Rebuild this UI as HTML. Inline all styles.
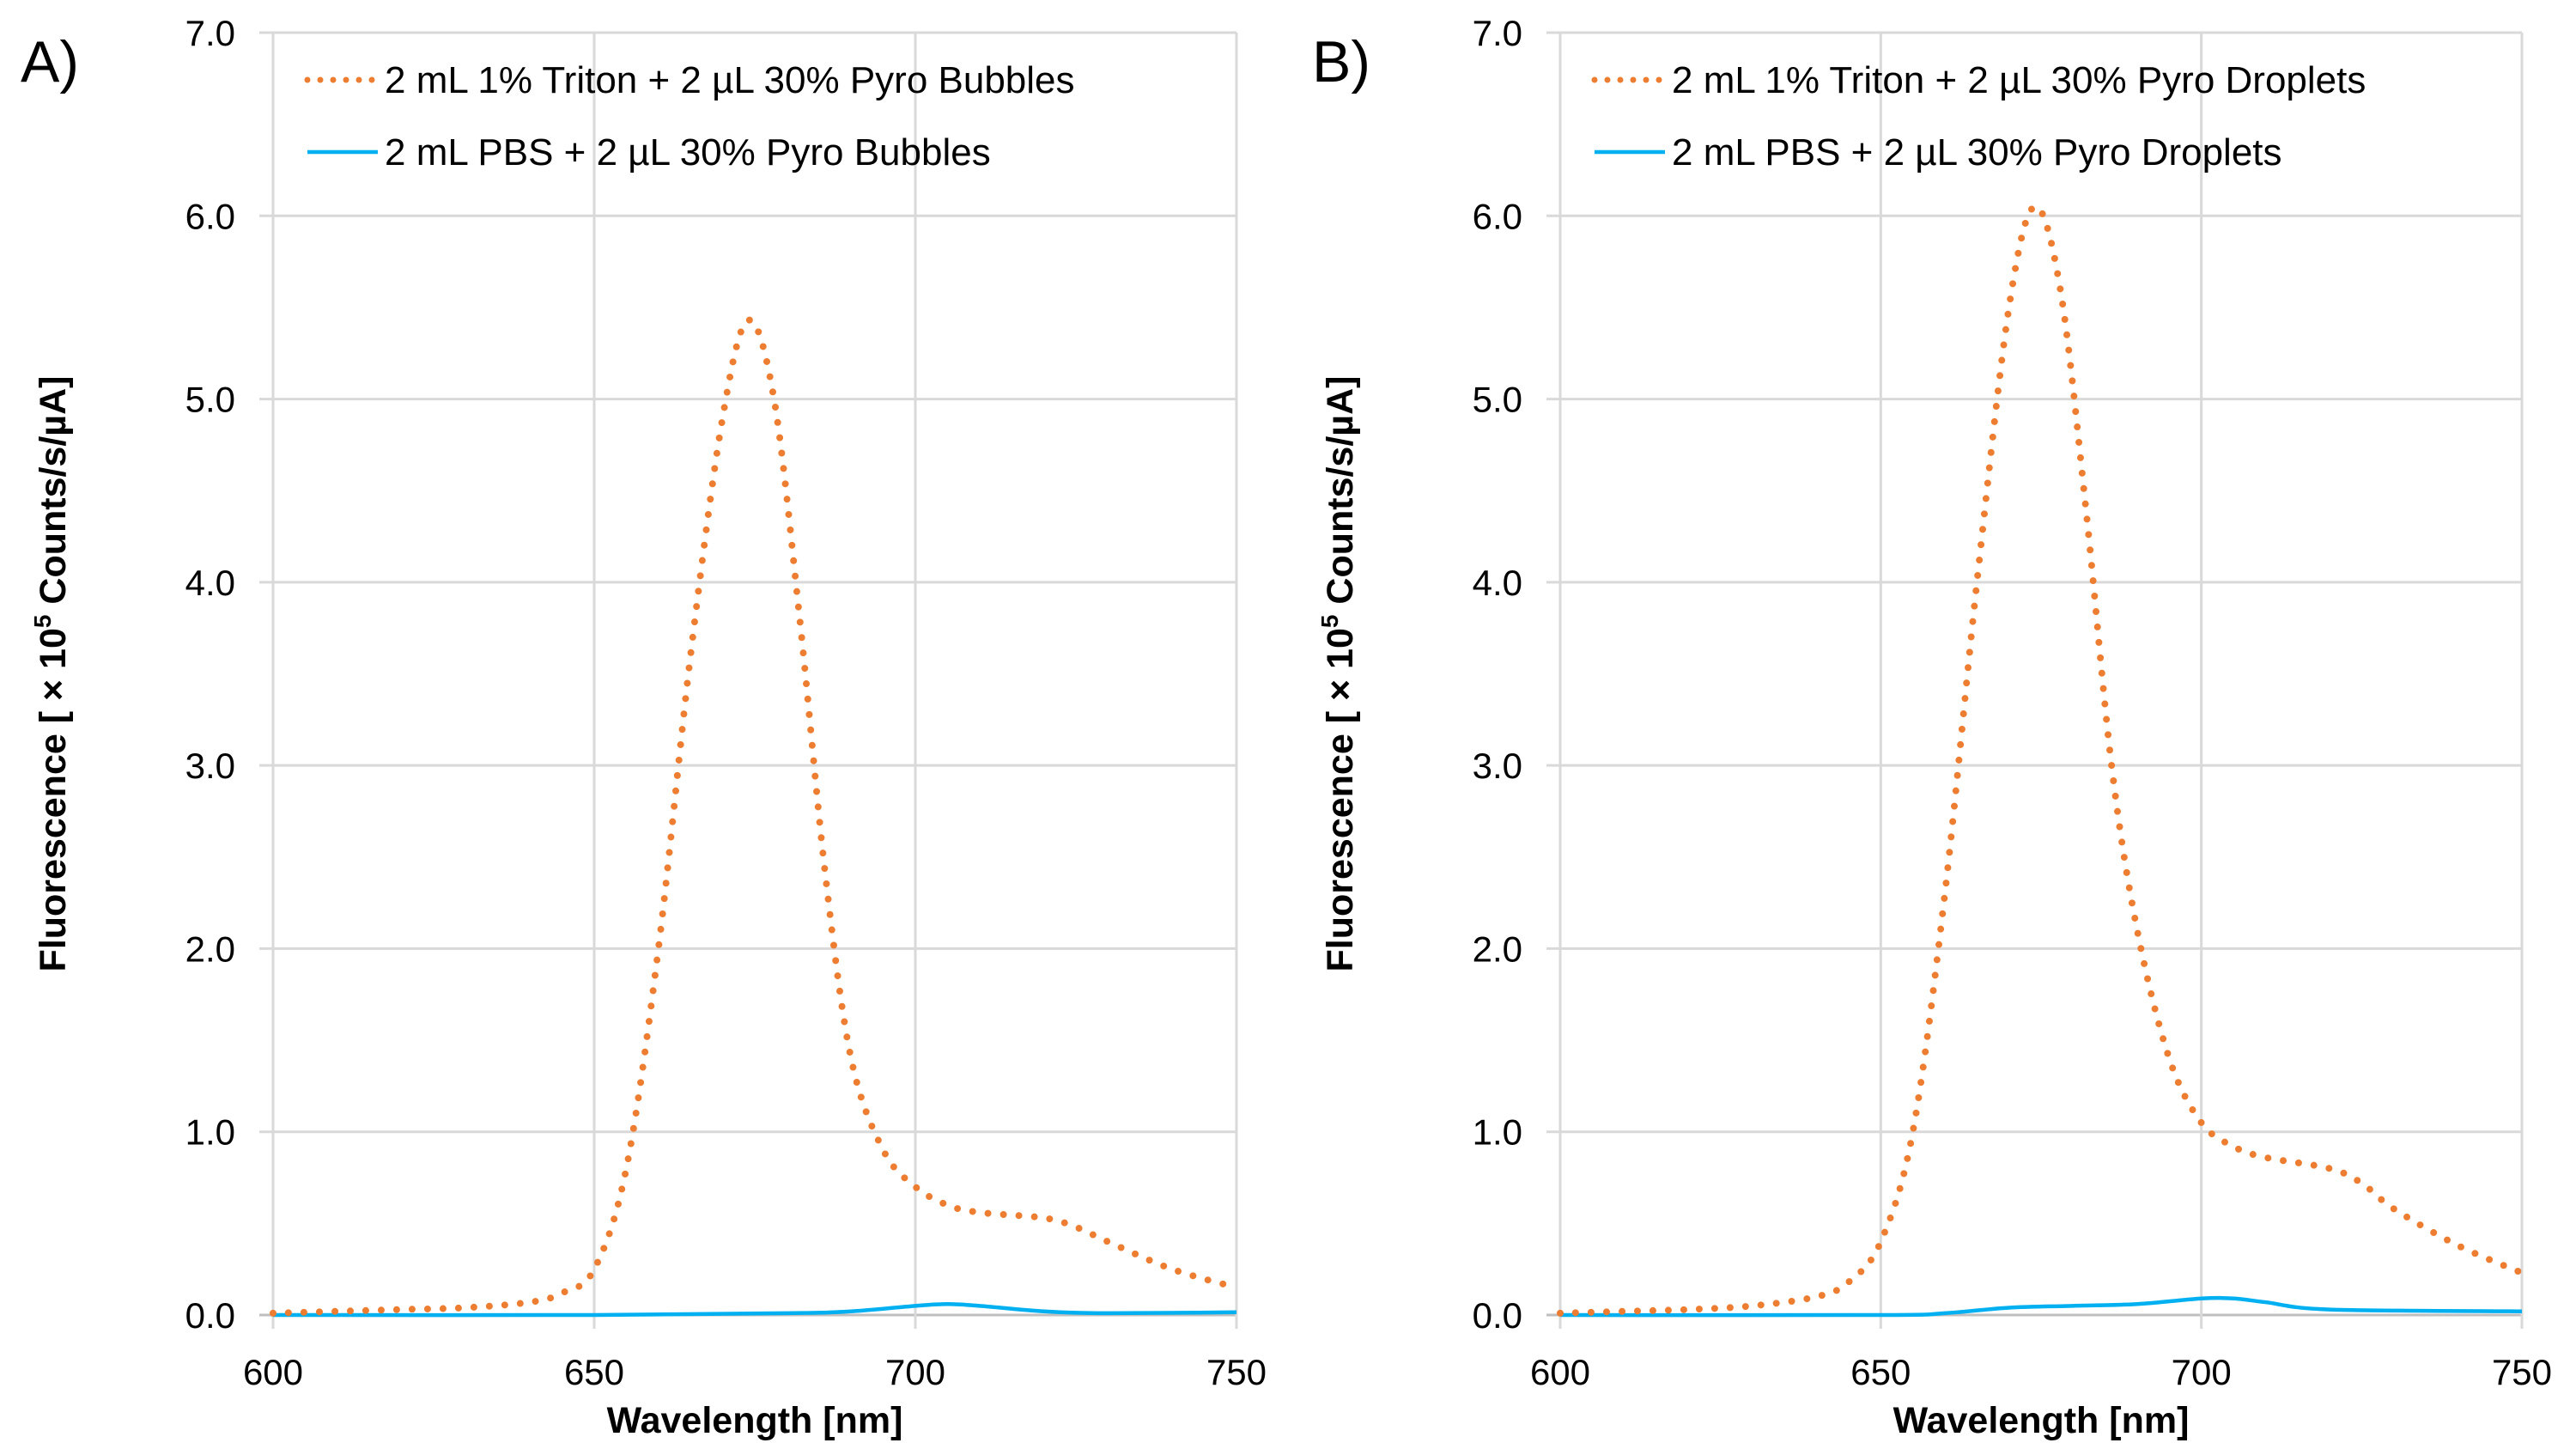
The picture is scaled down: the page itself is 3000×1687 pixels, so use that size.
<!DOCTYPE html>
<html><head><meta charset="utf-8"><style>
html,body{margin:0;padding:0;background:#fff;}
svg{display:block;font-family:"Liberation Sans",sans-serif;}
</style></head><body>
<svg id="chart" width="3000" height="1687" viewBox="0 0 3000 1687"></svg>
<script>
const xTicks = [600, 650, 700, 750];
const yTicks = [0, 1, 2, 3, 4, 5, 6, 7];
const yTickLabels = ["0.0","1.0","2.0","3.0","4.0","5.0","6.0","7.0"];
const wlA_orange = [600,610,620,630,640,645,650,655,660,665,670,674,678,682,686,690,695,700,705,710,720,725,730,740,750];
const valA_orange = [0.01,0.02,0.03,0.04,0.07,0.12,0.25,0.8,2.0,3.6,4.9,5.43,5.0,3.8,2.4,1.4,0.9,0.7,0.6,0.56,0.53,0.48,0.4,0.25,0.15];
const wlA_blue = [600,650,680,690,700,705,710,720,730,750];
const valA_blue = [0.0,0.0,0.01,0.02,0.05,0.06,0.05,0.02,0.01,0.015];
const wlB_orange = [600,610,620,630,640,645,650,655,660,665,670,674,678,682,686,690,695,700,705,710,720,725,730,740,750];
const valB_orange = [0.01,0.02,0.03,0.05,0.1,0.18,0.4,1.0,2.3,4.0,5.5,6.05,5.6,4.4,3.0,2.1,1.4,1.05,0.92,0.86,0.8,0.72,0.58,0.38,0.23];
const wlB_blue = [600,650,660,670,680,690,700,705,710,720,750];
const valB_blue = [0.0,0.0,0.01,0.04,0.05,0.06,0.09,0.09,0.07,0.03,0.02];
const legA = ["2 mL 1% Triton + 2 µL 30% Pyro Bubbles","2 mL PBS + 2 µL 30% Pyro Bubbles"];
const legB = ["2 mL 1% Triton + 2 µL 30% Pyro Droplets","2 mL PBS + 2 µL 30% Pyro Droplets"];

const svg = document.getElementById('chart');
const NS = 'http://www.w3.org/2000/svg';
function mk(tag, attrs, parent){const e=document.createElementNS(NS,tag);for(const k in attrs)e.setAttribute(k,attrs[k]);(parent||svg).appendChild(e);return e;}
function pathFrom(pts){
  let d='M'+pts[0][0]+','+pts[0][1];
  for(let i=0;i<pts.length-1;i++){
    const p0=pts[Math.max(0,i-1)],p1=pts[i],p2=pts[i+1],p3=pts[Math.min(pts.length-1,i+2)];
    const c1x=p1[0]+(p2[0]-p0[0])/6,c1y=p1[1]+(p2[1]-p0[1])/6;
    const c2x=p2[0]-(p3[0]-p1[0])/6,c2y=p2[1]-(p3[1]-p1[1])/6;
    d+=' C'+c1x+','+c1y+' '+c2x+','+c2y+' '+p2[0]+','+p2[1];
  }
  return d;
}
function panel(id, left, right, letter, letterX, wlO, vO, wlB, vB, leg){
  const top=38, bottom=1531;
  const g=mk('g',{});
  
  
  const xs=v=>left+(v-600)/150*(right-left);
  const ys=v=>bottom-v/7*(bottom-top);
  yTicks.forEach((t,i)=>{
    const l=mk('line',{x1:left-16,x2:right,y1:ys(t),y2:ys(t),stroke:t===0?'#bfbfbf':'#d9d9d9','stroke-width':3},g);
    
    
    const tx=mk('text',{x:left-44,y:ys(t)+15,'text-anchor':'end','font-size':42,fill:'#000'},g);
    tx.textContent=yTickLabels[i];
    
    
  });
  xTicks.forEach(t=>{
    const l=mk('line',{x1:xs(t),x2:xs(t),y1:top,y2:bottom+16,stroke:'#d9d9d9','stroke-width':3},g);
    
    
    const tx=mk('text',{x:xs(t),y:1612,'text-anchor':'middle','font-size':42,fill:'#000'},g);
    tx.textContent=t;
    
    
  });
  const bl=mk('path',{d:pathFrom(wlB.map((w,i)=>[xs(w),ys(vB[i])])),fill:'none',stroke:'#00b0f0','stroke-width':4.5},g);
  
  
  const ol=mk('path',{d:pathFrom(wlO.map((w,i)=>[xs(w),ys(vO[i])])),fill:'none',stroke:'#ed7d31','stroke-width':8,'stroke-linecap':'round','stroke-dasharray':'0 18'},g);
  
  
  const xt=mk('text',{x:(left+right)/2,y:1668,'text-anchor':'middle','font-size':43,'font-weight':'bold'},g);
  xt.textContent='Wavelength [nm]';
  
  
  const yx=left-242, yy=(top+bottom)/2;
  const yt=mk('text',{x:yx,y:yy,'text-anchor':'middle','font-size':43,'font-weight':'bold',transform:'rotate(-90 '+yx+' '+yy+')'},g);
  yt.innerHTML='Fluorescence [ × 10<tspan font-size="28" dy="-17">5</tspan><tspan dy="17"> Counts/s/µA]</tspan>';
  
  
  const lt=mk('text',{x:letterX,y:95,'font-size':68},g);
  lt.textContent=letter;
  
  
  const ls1=mk('line',{x1:left+40,x2:left+122,y1:93,y2:93,stroke:'#ed7d31','stroke-width':7,'stroke-linecap':'round','stroke-dasharray':'0 15'},g);
  
  
  const lt1=mk('text',{x:left+130,y:108,'font-size':44},g);
  lt1.textContent=leg[0];
  
  
  const ls2=mk('line',{x1:left+40,x2:left+122,y1:177,y2:177,stroke:'#00b0f0','stroke-width':4.5},g);
  
  
  const lt2=mk('text',{x:left+130,y:192,'font-size':44},g);
  lt2.textContent=leg[1];
  
  
}
panel('a',318,1440,'A)',24,wlA_orange,valA_orange,wlA_blue,valA_blue,legA);
panel('b',1817,2937,'B)',1528,wlB_orange,valB_orange,wlB_blue,valB_blue,legB);
</script>
</body></html>
